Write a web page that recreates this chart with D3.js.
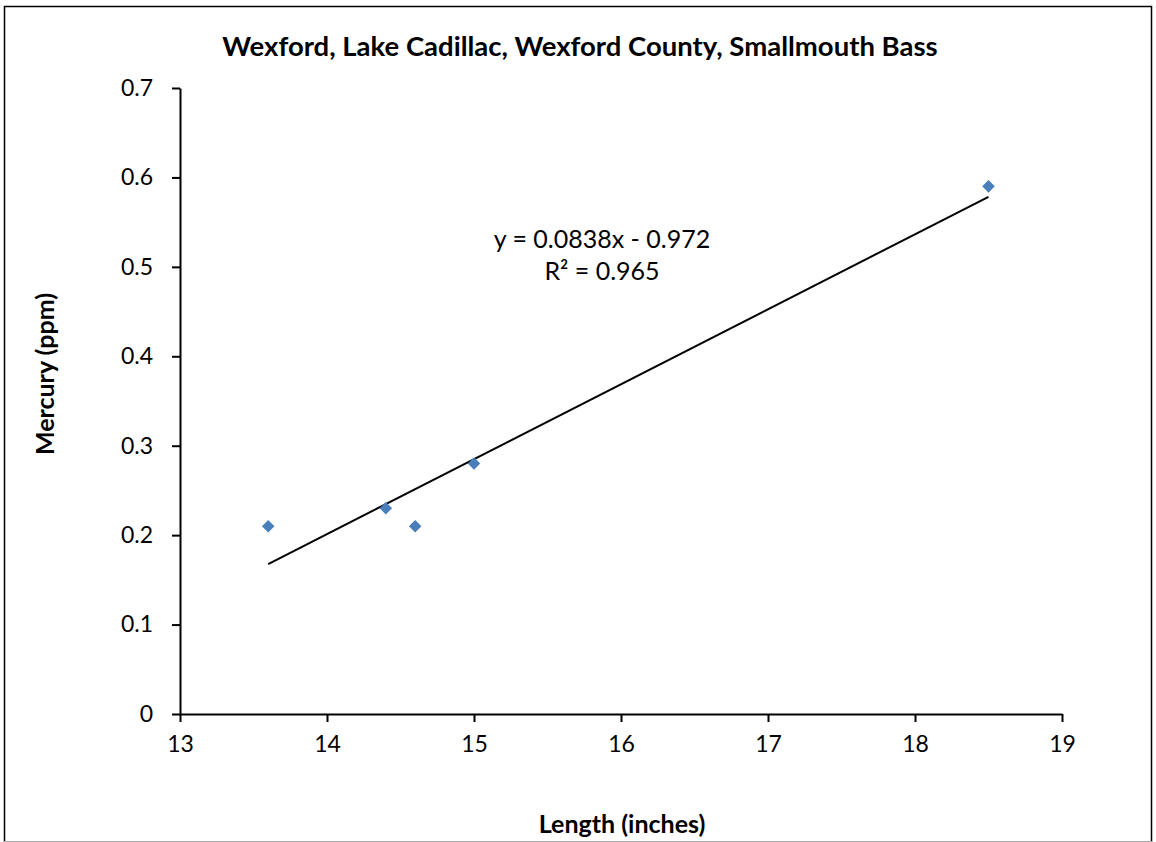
<!DOCTYPE html>
<html><head><meta charset="utf-8">
<script src="https://cdn.jsdelivr.net/npm/d3@7"></script>
<style>body{margin:0;background:#fff}svg{display:block}text{font-family:Lato,"Open Sans",sans-serif}</style>
</head><body><svg id="c" width="1156" height="842"></svg>
<script>
const title = "Wexford, Lake Cadillac, Wexford County, Smallmouth Bass";
const xLabel = "Length (inches)";
const yLabel = "Mercury (ppm)";
const lengths = [13.6, 14.4, 14.6, 15.0, 18.5];
const mercury = [0.21, 0.23, 0.21, 0.28, 0.59];
const xTicks = [13, 14, 15, 16, 17, 18, 19];
const yTicks = [0, 0.1, 0.2, 0.3, 0.4, 0.5, 0.6, 0.7];
const slope = 0.0838, intercept = -0.972;
const eqText = ["y = 0.0838x - 0.972", "R² = 0.965"];

const svg = d3.select("#c");
svg.append("rect").attr("x",4.5).attr("y",6.5).attr("width",1147).attr("height",840)
  .attr("fill","#fff").attr("stroke","#000").attr("stroke-width",1.5);
svg.append("line").attr("x1",4).attr("x2",1152).attr("y1",841.5).attr("y2",841.5).attr("stroke","#aaa");

const x = d3.scaleLinear().domain([13,19]).range([180,1062]);
const y = d3.scaleLinear().domain([0,0.7]).range([714,88]);

const xa = svg.append("g").attr("transform","translate(0,714)")
  .call(d3.axisBottom(x).tickValues(xTicks).tickSize(8).tickSizeOuter(0).tickPadding(14).tickFormat(d3.format("d")));
const ya = svg.append("g").attr("transform","translate(180,0)")
  .call(d3.axisLeft(y).tickValues(yTicks).tickSize(8).tickSizeOuter(0).tickPadding(19).tickFormat(d=>d===0?"0":d3.format(".1f")(d)));
[xa,ya].forEach(a=>{
  a.selectAll("path,line").attr("stroke","#000").attr("stroke-width",2);
  a.selectAll("text").attr("font-size",23).attr("fill","#000").style("font-family","Lato, sans-serif");
});

const x0 = d3.min(lengths), x1 = d3.max(lengths);
svg.append("line").attr("x1",x(x0)).attr("y1",y(slope*x0+intercept))
  .attr("x2",x(x1)).attr("y2",y(slope*x1+intercept)).attr("stroke","#000").attr("stroke-width",2);

svg.append("g").selectAll("path").data(lengths).join("path")
  .attr("d", d3.symbol(d3.symbolDiamond2, 100))
  .attr("transform",(d,i)=>`translate(${x(d)},${y(mercury[i])})`)
  .attr("fill","#4a7ebb");

svg.append("text").attr("x",580).attr("y",56).attr("text-anchor","middle")
  .attr("font-size",27.5).attr("font-weight","bold").text(title);
svg.append("text").attr("x",622).attr("y",833).attr("text-anchor","middle")
  .attr("font-size",25).attr("font-weight","bold").text(xLabel);
svg.append("text").attr("transform","translate(54,374) rotate(-90)").attr("text-anchor","middle")
  .attr("font-size",25).attr("font-weight","bold").text(yLabel);
eqText.forEach((t,i)=>svg.append("text").attr("x",602).attr("y",248+i*32).attr("text-anchor","middle")
  .attr("font-size",25).text(t));
</script></body></html>
